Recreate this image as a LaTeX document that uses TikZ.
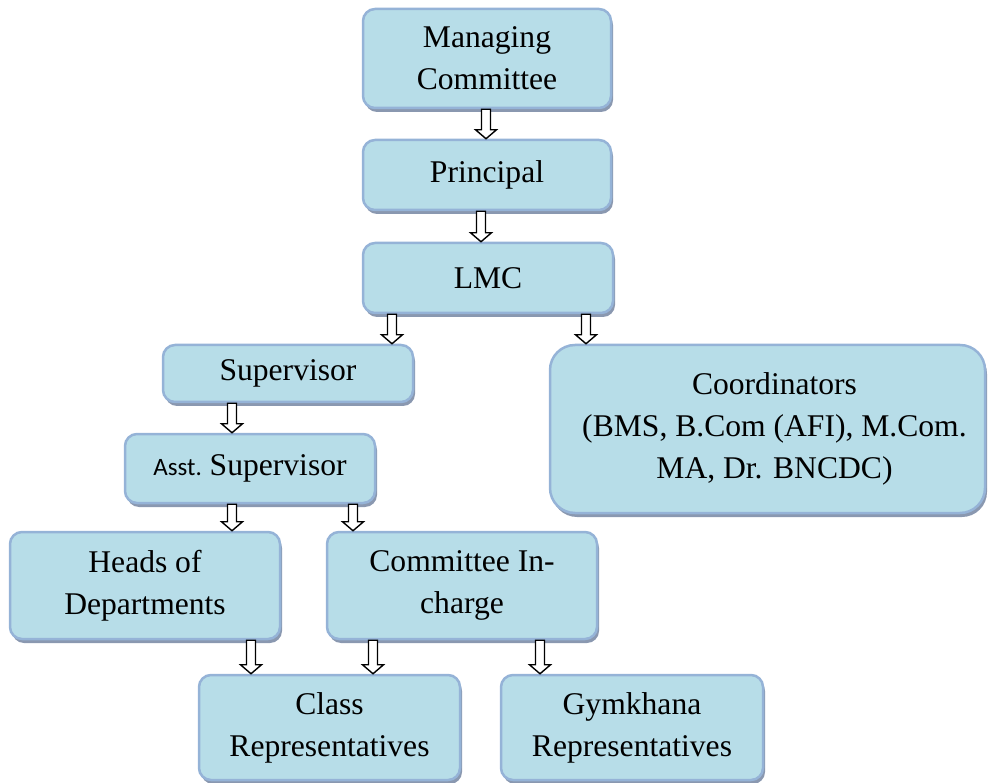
\documentclass[tikz,border=0pt]{standalone}
\usepackage{fontspec}
\setmainfont{Liberation Serif}
\newfontfamily\asstfont{Carlito}
\usetikzlibrary{calc,shadows}

\definecolor{boxfill}{RGB}{183,221,232}
\definecolor{boxline}{RGB}{149,179,215}
\definecolor{boxshade}{RGB}{138,152,176}

\newcommand{\flowarrow}[3]{%
  \draw[hollow] let \p1=(#1.south), \p2=(#2.north) in
    ({(#3-4.5)*1pt},\y1) -- ({(#3+4.5)*1pt},\y1) -- ({(#3+4.5)*1pt},{\y2+9pt})
    -- ({(#3+10.5)*1pt},{\y2+9pt}) -- ({#3*1pt},\y2) -- ({(#3-10.5)*1pt},{\y2+9pt})
    -- ({(#3-4.5)*1pt},{\y2+9pt}) -- cycle;}

\begin{document}
\begin{tikzpicture}[
  x=1pt, y=-1pt,
  box/.style={rectangle, rounded corners=12pt, draw=boxline, line width=2.5pt,
    fill=boxfill, drop shadow={shadow xshift=2pt, shadow yshift=-4pt, fill=boxshade, opacity=1},
    align=center, inner sep=0pt, font=\fontsize{31.6}{42}\selectfont},
  hollow/.style={draw=black, line width=1.4pt, fill=white, line join=miter}
]
\useasboundingbox (0,0) rectangle (988,783);

\node[box, minimum width=248pt, minimum height=99pt] (mc) at (487,58.5) {Managing\\Committee};
\node[box, minimum width=248pt, minimum height=70pt] (prin) at (487,175) {Principal};
\node[box, minimum width=250pt, minimum height=70pt] (lmc) at (488,278) {LMC};
\node[box, minimum width=250pt, minimum height=57pt] (sup) at (288,373.5) {Supervisor};
\node[box, rounded corners=25pt, minimum width=435pt, minimum height=168pt] (coord) at (767.5,429)
  {\hspace*{14pt}Coordinators\\\hspace*{14pt}(BMS, B.Com (AFI), M.Com.\\\hspace*{14pt}MA, Dr. BNCDC)};
\node[box, minimum width=250pt, minimum height=69pt] (asst) at (250,468.5)
  {{\asstfont\fontsize{25}{30}\selectfont Asst.}\ Supervisor};
\node[box, minimum width=270pt, minimum height=107pt] (heads) at (145,585.5) {Heads of\\Departments};
\node[box, minimum width=270pt, minimum height=107pt] (comm) at (462,585.5) {Committee In-\\charge};
\node[box, minimum width=261pt, minimum height=105pt] (class) at (329.5,727.5) {Class\\Representatives};
\node[box, minimum width=262pt, minimum height=105pt] (gym) at (632,727.5) {Gymkhana\\Representatives};

\flowarrow{mc}{prin}{486}
\flowarrow{prin}{lmc}{481}
\flowarrow{lmc}{sup}{392}
\flowarrow{lmc}{coord}{586}
\flowarrow{sup}{asst}{232}
\flowarrow{asst}{heads}{232}
\flowarrow{asst}{comm}{353}
\flowarrow{heads}{class}{251}
\flowarrow{comm}{class}{373}
\flowarrow{comm}{gym}{540}
\end{tikzpicture}
\end{document}
